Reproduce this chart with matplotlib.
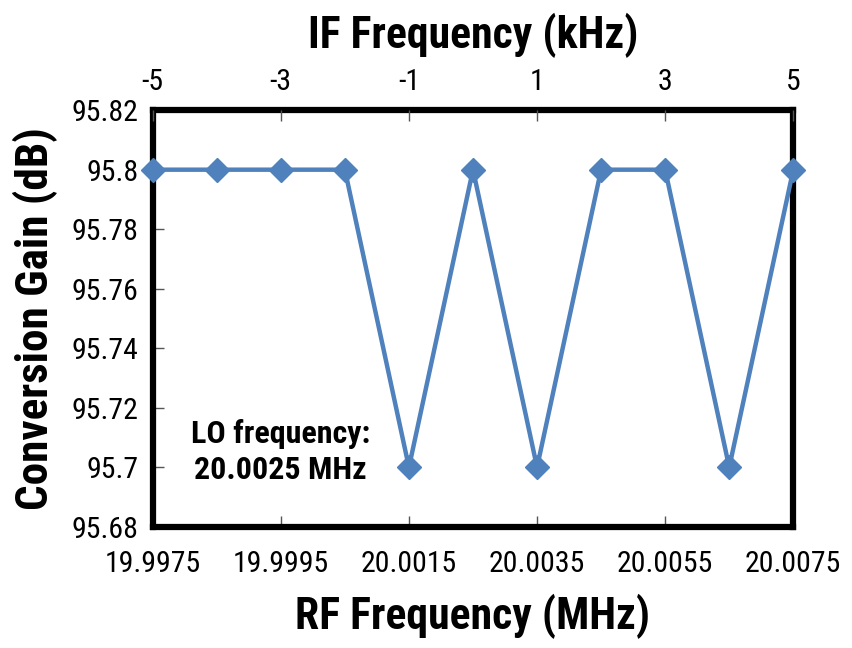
import matplotlib
matplotlib.use("Agg")
import matplotlib.pyplot as plt
from matplotlib import font_manager

fams = {f.name for f in font_manager.fontManager.ttflist}
fam = 'Liberation Sans'
for cand in ['Liberation Sans Narrow', 'Arial Narrow', 'Roboto Condensed', 'Archivo Narrow', 'Barlow Semi Condensed', 'Asap Condensed']:
    if cand in fams:
        fam = cand
        break
plt.rcParams['font.family'] = [fam, 'DejaVu Sans']

rf_freq = [19.9975, 19.9985, 19.9995, 20.0005, 20.0015, 20.0025, 20.0035, 20.0045, 20.0055, 20.0065, 20.0075]
gain = [95.8, 95.8, 95.8, 95.8, 95.7, 95.8, 95.7, 95.8, 95.8, 95.7, 95.8]
rf_ticks = [19.9975, 19.9995, 20.0015, 20.0035, 20.0055, 20.0075]
rf_labels = ['19.9975', '19.9995', '20.0015', '20.0035', '20.0055', '20.0075']
if_ticks = [-5, -3, -1, 1, 3, 5]
y_ticks = [95.68, 95.7, 95.72, 95.74, 95.76, 95.78, 95.8, 95.82]
y_labels = ['95.68', '95.7', '95.72', '95.74', '95.76', '95.78', '95.8', '95.82']

fig = plt.figure(figsize=(8.53, 6.48), dpi=100)
ax = fig.add_axes([0.179, 0.187, 0.751, 0.643])
ax.plot(rf_freq, gain, color='#4F81BD', lw=3.2, marker='D', ms=12.5, clip_on=False, zorder=5)
ax.set_xlim(19.9975, 20.0075)
ax.set_ylim(95.68, 95.82)
ax.set_xticks(rf_ticks)
ax.set_xticklabels(rf_labels)
ax.set_yticks(y_ticks)
ax.set_yticklabels(y_labels)
ax.tick_params(direction='in', length=8, width=1, color='#555555', labelsize=21.5)
ax.tick_params(axis='x', pad=17)
ax.tick_params(axis='y', pad=10)
for s in ax.spines.values():
    s.set_linewidth(4.5)
    s.set_color('black')
ax.set_xlabel('RF Frequency (MHz)', fontsize=31.5, fontweight='bold', labelpad=11)
ax.set_ylabel('Conversion Gain (dB)', fontsize=32.5, fontweight='bold', labelpad=10)

ax2 = ax.twiny()
ax2.set_xlim(-5, 5)
ax2.set_xticks(if_ticks)
ax2.set_xticklabels([str(t) for t in if_ticks])
ax2.tick_params(direction='in', length=8, width=1, color='#555555', labelsize=21.5, pad=10.5)
for s in ax2.spines.values():
    s.set_visible(False)
ax2.set_xlabel('IF Frequency (kHz)', fontsize=31.5, fontweight='bold', labelpad=14)

ax.text(0.2, 0.18, 'LO frequency:\n20.0025 MHz', transform=ax.transAxes, ha='center', va='center',
        fontsize=23, fontweight='bold', linespacing=1.25)

fig.savefig('out.png', dpi=100)
